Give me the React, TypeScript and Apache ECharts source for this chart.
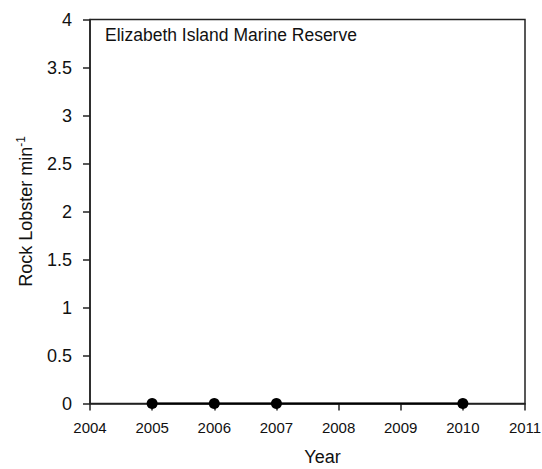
import React, { useEffect, useRef } from "react";
import * as echarts from "echarts";

const years = [2005, 2006, 2007, 2010];
const lobsterPerMin = [0, 0, 0, 0];
const xTicks = { min: 2004, max: 2011, interval: 1 };
const yTicks = { min: 0, max: 4, interval: 0.5 };
const siteName = "Elizabeth Island Marine Reserve";

export default function App() {
  const ref = useRef<HTMLDivElement>(null);
  useEffect(() => {
    document.body.style.margin = "0";
    if (!ref.current) return;
    const chart = echarts.init(ref.current, null, { renderer: "svg" });
    const font = "'Liberation Sans', Arial, sans-serif";
    const axisColor = "#222";
    chart.setOption({
      animation: false,
      backgroundColor: "#fff",
      grid: {
        left: 90,
        right: 17,
        top: 19.5,
        bottom: 65.5,
        outerBoundsMode: "none",
        containLabel: false,
        show: true,
        borderColor: axisColor,
        borderWidth: 1.5,
        backgroundColor: "transparent",
      },
      graphic: [
        {
          type: "text",
          left: 105,
          top: 26,
          style: { text: siteName, font: `17.5px ${font}`, fill: "#111" },
        },
      ],
      xAxis: {
        type: "value",
        min: xTicks.min,
        max: xTicks.max,
        interval: xTicks.interval,
        name: "Year",
        nameLocation: "middle",
        nameGap: 44,
        nameTextStyle: { fontFamily: font, fontSize: 18, color: "#111", padding: [0, 0, 0, 30] },
        axisLine: { lineStyle: { color: axisColor, width: 1.5 } },
        axisTick: { show: true, inside: false, length: 7, lineStyle: { color: axisColor, width: 1.5 } },
        axisLabel: {
          fontFamily: font,
          fontSize: 15,
          color: "#111",
          margin: 16,
          formatter: (v: number) => String(v),
        },
        splitLine: { show: false },
      },
      yAxis: {
        type: "value",
        min: yTicks.min,
        max: yTicks.max,
        interval: yTicks.interval,
        name: "Rock Lobster min{sup|-1}",
        nameLocation: "middle",
        nameGap: 54,
        nameTextStyle: {
          fontFamily: font,
          fontSize: 18,
          color: "#111",
          rich: {
            sup: { fontFamily: font, fontSize: 12, color: "#111", verticalAlign: "top", padding: [0, 0, 9, 0] },
          },
        },
        axisLine: { show: true, lineStyle: { color: axisColor, width: 1.5 } },
        axisTick: { show: true, inside: false, length: 7, lineStyle: { color: axisColor, width: 1.5 } },
        axisLabel: {
          fontFamily: font,
          fontSize: 18,
          color: "#111",
          margin: 18,
        },
        splitLine: { show: false },
      },
      series: [
        {
          type: "line",
          data: years.map((y, i) => [y, lobsterPerMin[i]]),
          clip: false,
          symbol: "circle",
          symbolSize: 11,
          itemStyle: { color: "#000" },
          lineStyle: { color: "#000", width: 2 },
        },
      ],
    });
    return () => chart.dispose();
  }, []);
  return <div ref={ref} style={{ width: 542, height: 469 }} />;
}
